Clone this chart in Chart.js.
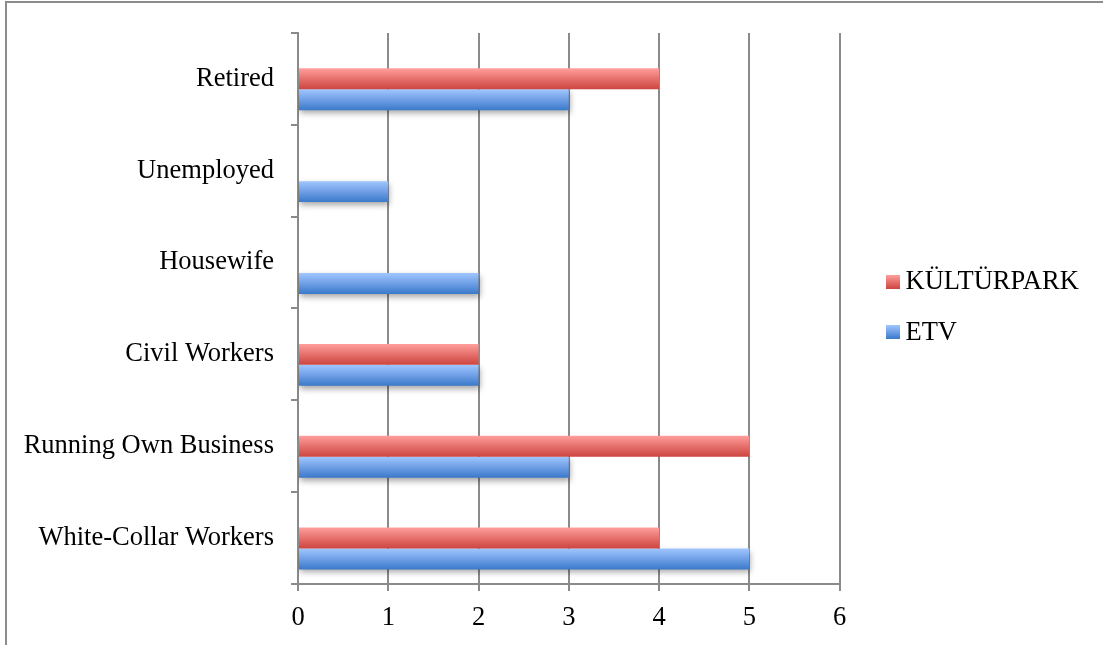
<!DOCTYPE html>
<html>
<head>
<meta charset="utf-8">
<title>Occupations</title>
<script src="https://cdn.jsdelivr.net/npm/chart.js@4.4.1/dist/chart.umd.min.js"></script>
<style>
  html, body { margin: 0; padding: 0; background: #fff; }
  #wrap { position: relative; width: 1104px; height: 645px; overflow: hidden; }
  #chart { position: absolute; left: 0; top: 0; }
  #frame { position: absolute; left: 5px; top: 1px; right: 1px; bottom: -4px;
           border-top: 2px solid #8c8c8c; border-left: 2px solid #8c8c8c; pointer-events: none; }
</style>
</head>
<body>
<div id="wrap">
  <canvas id="chart" width="1104" height="645" style="width:1104px;height:645px"></canvas>
  <div id="frame"></div>
</div>
<script>
// Categories, listed from the bottom row upwards
const categories = ['White-Collar Workers', 'Running Own Business', 'Civil Workers', 'Housewife', 'Unemployed', 'Retired'];
const seriesNames = ['KÜLTÜRPARK', 'ETV'];
const kulturparkValues = [4, 5, 2, 0, 0, 4];
const etvValues = [5, 3, 2, 2, 1, 3];
const xTickValues = [0, 1, 2, 3, 4, 5, 6];

const FONT = '"Liberation Serif", "Times New Roman", serif';
const FONT_SIZE = 26.5;
const GRID = '#8a8a8a';

// top, middle, bottom shades of each series' bars
const barShades = {
  'KÜLTÜRPARK': ['#ff9f9c', '#e6706c', '#cc4540'],
  'ETV': ['#a0c6ff', '#6f9fe5', '#3a79ca']
};

function shade(ctx, top, bottom, stops) {
  const g = ctx.createLinearGradient(0, top, 0, bottom);
  g.addColorStop(0, stops[0]);
  g.addColorStop(0.5, stops[1]);
  g.addColorStop(1, stops[2]);
  return g;
}

// paints each bar with a top-to-bottom gradient, blue bars get a soft drop shadow
const gradientBars = {
  id: 'gradientBars',
  beforeDatasetDraw(chart, args) {
    const ds = chart.data.datasets[args.index];
    const stops = barShades[ds.label];
    if (!stops) return;
    const ctx = chart.ctx;
    args.meta.data.forEach(el => {
      const top = el.y - el.height / 2;
      const bottom = el.y + el.height / 2;
      el.options = Object.assign({}, el.options, { backgroundColor: shade(ctx, top, bottom, stops) });
    });
    ctx.save();
    if (ds.label === 'ETV') {
      ctx.shadowColor = 'rgba(0,0,0,0.35)';
      ctx.shadowBlur = 6;
      ctx.shadowOffsetY = 3;
      ctx.shadowOffsetX = 1;
    }
  },
  afterDatasetDraw(chart, args) {
    if (barShades[chart.data.datasets[args.index].label]) chart.ctx.restore();
  }
};

// legend at the right side of the plot
const sideLegend = {
  id: 'sideLegend',
  afterDraw(chart, args, opts) {
    const ctx = chart.ctx;
    ctx.save();
    ctx.font = FONT_SIZE + 'px ' + FONT;
    ctx.textBaseline = 'alphabetic';
    ctx.textAlign = 'left';
    seriesNames.forEach((name, i) => {
      const boxTop = opts.top + i * opts.step;
      ctx.fillStyle = shade(ctx, boxTop, boxTop + opts.box, barShades[name]);
      ctx.fillRect(opts.x, boxTop, opts.box, opts.box);
      ctx.fillStyle = '#000';
      ctx.fillText(name, opts.x + opts.box + 5.5, boxTop + 14 + i);
    });
    ctx.restore();
  }
};

new Chart(document.getElementById('chart'), {
  type: 'bar',
  data: {
    labels: categories,
    datasets: [
      // empty leading series keeps the bar pair in the lower part of each row
      { label: '', data: categories.map(() => null), backgroundColor: 'rgba(0,0,0,0)' },
      { label: seriesNames[0], data: kulturparkValues, backgroundColor: '#e0625e', borderWidth: 0 },
      { label: seriesNames[1], data: etvValues, backgroundColor: '#6b9be0', borderWidth: 0 }
    ]
  },
  options: {
    indexAxis: 'y',
    responsive: false,
    animation: false,
    devicePixelRatio: 1,
    categoryPercentage: 0.684,
    barPercentage: 1,
    layout: { padding: { top: 31.5, right: 264.5, bottom: 0, left: 0 } },
    plugins: {
      legend: { display: false },
      tooltip: { enabled: false },
      sideLegend: { x: 886, top: 275, step: 50, box: 14 }
    },
    scales: {
      x: {
        type: 'linear',
        min: 0,
        max: 6,
        afterFit(scale) { scale.height = 61; },
        afterBuildTicks(scale) { scale.ticks = xTickValues.map(v => ({ value: v })); },
        grid: { color: GRID, lineWidth: 2, tickLength: 7, drawTicks: true },
        border: { display: true, color: GRID, width: 2 },
        ticks: { color: '#000', padding: 11.5, font: { family: FONT, size: FONT_SIZE } }
      },
      y: {
        type: 'category',
        reverse: true,
        afterFit(scale) { scale.width = 298; },
        grid: { display: true, offset: true, drawOnChartArea: false, drawTicks: true, tickLength: 7, color: GRID, lineWidth: 2 },
        border: { display: true, color: GRID, width: 2 },
        ticks: { color: '#000', padding: 17, font: { family: FONT, size: FONT_SIZE } }
      }
    }
  },
  plugins: [gradientBars, sideLegend]
});
</script>
</body>
</html>
